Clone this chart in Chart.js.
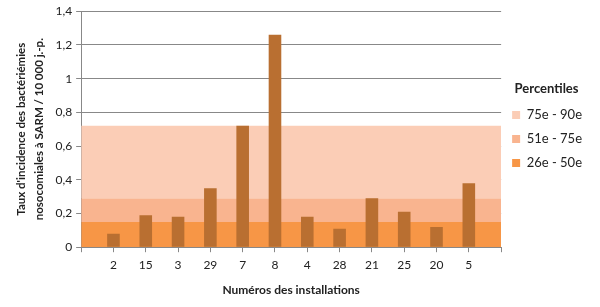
<!DOCTYPE html>
<html>
<head>
<meta charset="utf-8">
<script src="https://cdn.jsdelivr.net/npm/chart.js@4"></script>
<style>
    html, body { margin: 0; padding: 0; background: #fff; }
    #wrap { width: 600px; height: 307px; }
</style>
</head>
<body>
<div id="wrap"><canvas id="chart"></canvas></div>
<script>
"use strict";

// installation numbers (empty slot at both ends, like the original axis)
const installations = ["", "2", "15", "3", "29", "7", "8", "4", "28", "21", "25", "20", "5", ""];
const rates = [null, 0.08, 0.19, 0.18, 0.35, 0.72, 1.26, 0.18, 0.11, 0.29, 0.21, 0.12, 0.38, null];

// upper bounds of the percentile bands
const p26to50 = [0.15, 0.15, 0.15, 0.15, 0.15, 0.15, 0.15, 0.15, 0.15, 0.15, 0.15, 0.15, 0.15, 0.15];
const p51to75 = [0.29, 0.29, 0.29, 0.29, 0.29, 0.29, 0.29, 0.29, 0.29, 0.29, 0.29, 0.29, 0.29, 0.29];
const p75to90 = [0.72, 0.72, 0.72, 0.72, 0.72, 0.72, 0.72, 0.72, 0.72, 0.72, 0.72, 0.72, 0.72, 0.72];

const FONT = "Lato, 'Open Sans', sans-serif";
const canvas = document.getElementById("chart");

const band = (label, data, color, fill, order) => ({
    type: 'line',
    label: label,
    data: data,
    backgroundColor: color,
    borderColor: color,
    borderWidth: 0,
    pointRadius: 0,
    fill: fill,
    order: order,
});

new Chart(canvas, {
    data: {
        labels: installations,
        datasets: [
            band('26e - 50e', p26to50, '#f79646', 'origin', 3),
            band('51e - 75e', p51to75, '#f9b48f', '-1', 2),
            band('75e - 90e', p75to90, '#fbcdb6', '-1', 1),
            {
                type: 'bar',
                label: 'Taux',
                data: rates,
                backgroundColor: '#b96f31',
                barPercentage: 0.39,
                categoryPercentage: 1,
                order: 0,
            },
        ]
    },
    options: {
        responsive: true,
        maintainAspectRatio: false,
        animation: false,
        layout: {
            padding: { top: 0, left: 9, right: 8, bottom: 6 }
        },
        plugins: {
            tooltip: { enabled: false },
            legend: {
                position: 'right',
                align: 'start',
                labels: {
                    filter: item => item.text !== 'Taux',
                    boxWidth: 8,
                    boxHeight: 8,
                    padding: 11,
                    color: '#222',
                    font: { family: FONT, size: 13 },
                },
                title: {
                    display: true,
                    text: 'Percentiles',
                    color: '#222',
                    font: { family: FONT, size: 13, weight: 'bold' },
                    padding: { top: 82, bottom: 0 }
                }
            }
        },
        scales: {
            x: {
                offset: false,
                grid: {
                    offset: false,
                    drawOnChartArea: false,
                    color: '#888',
                    tickLength: 5,
                },
                border: { color: '#888' },
                ticks: {
                    color: '#222',
                    font: { family: FONT, size: 12 },
                    maxRotation: 0,
                    autoSkip: false,
                    padding: 6,
                },
                title: {
                    display: true,
                    text: 'Numéros des installations',
                    color: '#222',
                    font: { family: FONT, size: 12, weight: 'bold' },
                    padding: { top: 4 }
                }
            },
            y: {
                min: 0,
                max: 1.4,
                grid: { color: '#888', tickLength: 5 },
                border: { color: '#888' },
                ticks: {
                    stepSize: 0.2,
                    color: '#222',
                    font: { family: FONT, size: 12 },
                    padding: 4,
                    callback: v => Number(v.toFixed(1)).toString().replace('.', ','),
                },
                title: {
                    display: true,
                    text: ["Taux d'incidence des bactériémies", "nosocomiales à SARM / 10 000 j.-p."],
                    color: '#222',
                    font: { family: FONT, size: 11.5, weight: 'bold', lineHeight: 1.5 },
                    padding: { bottom: 4 }
                }
            }
        }
    }
});
</script>
</body>
</html>
